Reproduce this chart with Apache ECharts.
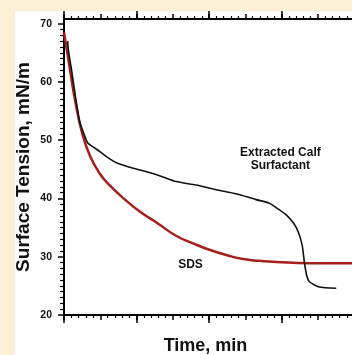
<!DOCTYPE html>
<html><head><meta charset="utf-8">
<script src="https://cdn.jsdelivr.net/npm/echarts@6/dist/echarts.min.js"></script>
<style>
html,body{margin:0;padding:0;overflow:hidden;background:#fcf1d6;width:352px;height:355px;}
#c{position:absolute;left:15px;top:11px;width:339px;height:344px;background:#fff;}
</style></head><body>
<div id="c"></div>
<script>
// time (min) and surface tension (mN/m)
const sdsTime   = [0, 1.66, 3.04, 4.97, 7.18, 9.94, 12.7, 16.3, 21.0, 25.7, 30.9, 35.6, 40.1, 44.8, 49.4, 53.9, 58.6, 67.7, 80];
const sdsST     = [68.5, 62.1, 56.9, 51.3, 47.3, 44.2, 42.2, 40.1, 37.7, 35.8, 33.6, 32.3, 31.2, 30.3, 29.6, 29.3, 29.1, 28.9, 28.9];
const calfTime  = [1.0, 1.2, 2.2, 3.3, 4.4, 5.8, 6.6, 9.1, 11.9, 14.6, 19.1, 23.8, 27.3, 30.9, 36.5, 42.0, 47.5, 53.0, 56.6, 58.6, 61.3, 63.3, 64.6, 65.7, 66.3, 66.9, 67.7, 70.4, 75.1];
const calfST    = [67.0, 65.5, 61.6, 56.9, 53.0, 50.6, 49.5, 48.4, 47.1, 46.1, 45.2, 44.4, 43.7, 42.9, 42.3, 41.5, 40.8, 39.8, 39.2, 38.4, 37.2, 35.8, 34.3, 32.0, 29.1, 26.9, 25.7, 24.8, 24.6];
const yTicks    = [20, 30, 40, 50, 60, 70];
const labels    = [{text: 'Extracted Calf\nSurfactant', x: 59.7, y: 46.7}, {text: 'SDS', x: 34.9, y: 28.6}];

const zip = (a, b) => a.map((v, i) => [v, b[i]]);
const F = '"Liberation Sans", Arial, sans-serif';
function xa(pos, big){
  return {type:'value', position:pos, min:0, max:80, interval: big?20:10,
    axisLine:{show:!big, lineStyle:{color:'#000', width:2}},
    axisTick:{show:true, length: big?8:5, lineStyle:{color:'#000', width:1.5}},
    minorTick:{show:!big, splitNumber:5, length:3, lineStyle:{color:'#000', width:1.2}},
    axisLabel:{show:false}, splitLine:{show:false},
    name: (pos==='bottom' && !big) ? 'Time, min' : '', nameLocation:'middle', nameGap:22, nameMoveOverlap:false,
    nameTextStyle:{fontFamily:F, fontWeight:'bold', fontSize:18, color:'#111', verticalAlign:'top', padding:[0,7,0,0]}};
}
const chart = echarts.init(document.getElementById('c'));
chart.setOption({
  animation:false,
  grid:{left:49, top:8, right:0, bottom:40, containLabel:false, outerBoundsMode:'none'},
  xAxis:[xa('bottom',false), xa('bottom',true), xa('top',false), xa('top',true)],
  yAxis:{type:'value', min:20, max:70.8, interval:10,
    axisLine:{show:true, lineStyle:{color:'#000', width:2}},
    axisTick:{show:true, length:6, customValues:yTicks, lineStyle:{color:'#000', width:1.5}},
    minorTick:{show:true, splitNumber:10, length:4, lineStyle:{color:'#000', width:1.2}},
    axisLabel:{customValues:yTicks, margin:12, fontFamily:F, fontWeight:'bold', fontSize:10.5, color:'#111'},
    splitLine:{show:false},
    name:'Surface Tension, mN/m', nameLocation:'middle', nameGap:31, nameMoveOverlap:false,
    nameTextStyle:{fontFamily:F, fontWeight:'bold', fontSize:19, color:'#111'}},
  series:[
    {type:'line', data:zip(calfTime, calfST), symbol:'none', smooth:0.2, lineStyle:{color:'#111', width:1.6}, z:3,
     markPoint:{symbolSize:0, data: labels.map(l=>({coord:[l.x,l.y], value:l.text})),
       label:{show:true, position:'inside', formatter:p=>p.value, fontFamily:F, fontWeight:'bold', fontSize:12, lineHeight:13, color:'#111', align:'center', verticalAlign:'middle'}}},
    {type:'line', data:zip(sdsTime, sdsST), symbol:'none', smooth:0.5, lineStyle:{color:'#a51f1c', width:2.5}, z:2}
  ]
});
</script></body></html>
